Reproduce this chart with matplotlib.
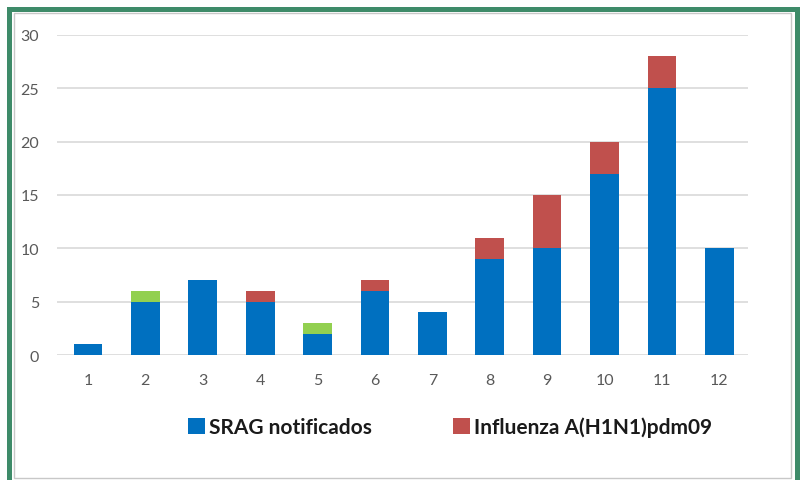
import matplotlib.pyplot as plt
from matplotlib.patches import Rectangle

weeks = [str(i) for i in range(1, 13)]
srag = [1, 5, 7, 5, 2, 6, 4, 9, 10, 17, 25, 10]
influenza = [0, 0, 0, 1, 0, 1, 0, 2, 5, 3, 3, 0]
otros = [0, 1, 0, 0, 1, 0, 0, 0, 0, 0, 0, 0]  # green part, not in the legend

blue = "#0070C0"
red = "#C0504D"
green = "#92D050"

plt.rcParams['font.family'] = ['Lato', 'DejaVu Sans']

W, H = 801, 481
fig = plt.figure(figsize=(W / 100, H / 100), dpi=100)

# frame: thick green outside, thin grey inside
fig.patches.append(Rectangle((9 / W, -0.02), 788 / W, 1 - 10 / H + 0.02, transform=fig.transFigure,
                             fill=False, edgecolor="#3E8B69", linewidth=3.6, zorder=0))
fig.patches.append(Rectangle((13.5 / W, 1 - 479 / H), 777.5 / W, 465 / H, transform=fig.transFigure,
                             fill=False, edgecolor="#C8C8C8", linewidth=1, zorder=0))

ax = fig.add_axes([57 / W, 1 - 356 / H, 691 / W, 320 / H])
x = list(range(1, 13))
bottom2 = [a + b for a, b in zip(srag, influenza)]
ax.bar(x, srag, width=0.5, color=blue, label="SRAG notificados", zorder=3)
ax.bar(x, influenza, width=0.5, bottom=srag, color=red, label="Influenza A(H1N1)pdm09", zorder=3)
ax.bar(x, otros, width=0.5, bottom=bottom2, color=green, zorder=3)

ax.set_xlim(0.46, 12.5)
ax.set_ylim(0, 30)
ax.set_yticks(range(0, 31, 5))
ax.set_xticks(x)
ax.set_xticklabels(weeks)
ax.grid(axis="y", color="#D9D9D9", linewidth=1.2, zorder=0)
for s in ax.spines.values():
    s.set_visible(False)
ax.tick_params(length=0, labelsize=11.5, colors="#595959", pad=13)
ax.tick_params(axis="y", pad=13)

handles, labels = ax.get_legend_handles_labels()
leg = fig.legend(handles[:2], labels[:2], loc="center", bbox_to_anchor=(450 / W, 1 - 428 / H),
                 ncol=2, frameon=False, handlelength=0.8, handleheight=0.8, handletextpad=0.2,
                 columnspacing=3.9, prop={"size": 15, "weight": "bold"})
for t in leg.get_texts():
    t.set_color("#1a1a1a")

fig.savefig("out.png", dpi=100)
